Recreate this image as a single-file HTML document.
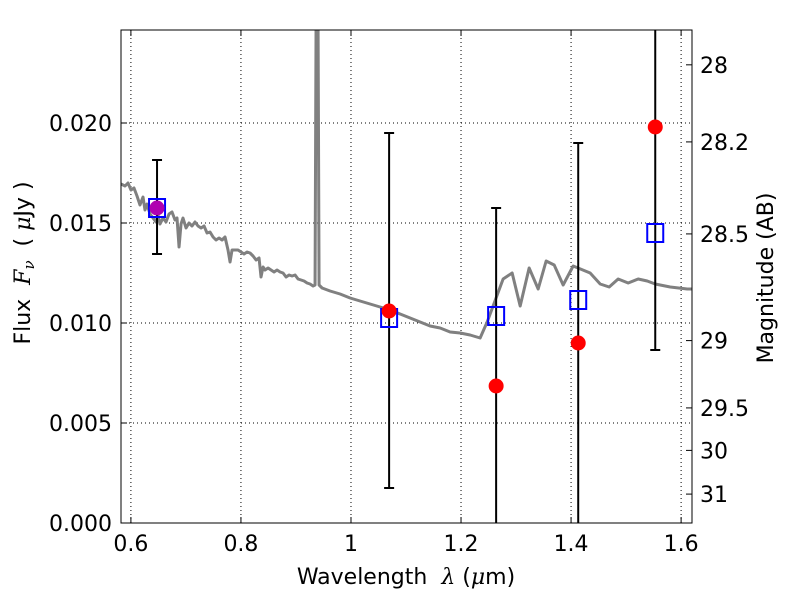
<!DOCTYPE html>
<html><head><meta charset="utf-8"><style>
body{margin:0;background:#fff;}
svg{display:block;font-family:"DejaVu Sans","Liberation Sans",sans-serif;}
</style></head><body>
<svg id="c" width="800" height="600"></svg>
<script>
const specPx=[[121,184],[125,186],[128,183],[131,190],[134,188],[137,196],[140,205],[143,197],[145,210],[147,204],[150,214],[153,218],[156,222],[158,215],[160,224],[163,218],[166,222],[169,214],[172,212],[175,220],[177,218],[179,247],[181,224],[183,218],[186,228],[189,223],[192,226],[195,222],[198,226],[201,228],[204,226],[207,233],[210,232],[213,237],[216,240],[219,238],[222,240],[225,237],[228,250],[230,262],[232,250],[235,250],[238,250],[241,252],[244,254],[247,252],[250,253],[253,256],[256,260],[259,258],[261,277],[263,267],[265,270],[268,268],[271,270],[274,272],[277,270],[280,272],[283,273],[286,277],[289,275],[292,276],[295,275],[298,279],[301,280],[304,281],[307,283],[310,284],[313,286],[315,285],[316,28],[318,28],[319,285],[322,288],[330,291],[340,294],[350,298],[360,301],[370,304],[380,307],[390,310],[400,314],[410,318],[420,322],[430,326],[440,328],[450,332],[460,333],[470,335],[480,338],[487,322],[503,279],[512,273],[520,306],[529,268],[538,289],[546,261],[554,265],[563,285],[573,266],[590,273],[600,284],[609,287],[618,279],[628,283],[638,279],[647,281],[655,284],[670,287],[687,289],[692,289]];
const specWave=specPx.map(p=>+(0.582+(p[0]-121)/550).toFixed(4));
const specFlux=specPx.map(p=>+((523-p[1])/20000).toFixed(5));
const obsWave=[0.6475,1.0693,1.2638,1.413,1.553];
const obsFlux=[0.01575,0.0106,0.00685,0.0090,0.0198];
const errHi=[0.01815,0.0195,0.01575,0.0190,0.0300];
const errLo=[0.01345,0.00175,-0.005,-0.005,0.00865];
const modelFlux=[0.01575,0.01025,0.01035,0.01115,0.0145];
const xTicks=[0.6,0.8,1.0,1.2,1.4,1.6];
const xTickLabels=["0.6","0.8","1","1.2","1.4","1.6"];
const yTicks=[0,0.005,0.01,0.015,0.02];
const yTickLabels=["0.000","0.005","0.010","0.015","0.020"];
const magTicks=[28,28.2,28.5,29,29.5,30,31];
const magTickLabels=["28","28.2","28.5","29","29.5","30","31"];

const L=121,R=692,T=30,B=523,X0=0.582,X1=1.6198,Y0=0,Y1=0.02465;
const sx=v=>L+(v-X0)/(X1-X0)*(R-L);
const sy=v=>B-(v-Y0)/(Y1-Y0)*(B-T);
const magToFlux=m=>Math.pow(10,(23.9-m)/2.5);
const svg=document.getElementById('c');
const NS='http://www.w3.org/2000/svg';
function mk(tag,attrs,parent){const e=document.createElementNS(NS,tag);for(const k in attrs)e.setAttribute(k,attrs[k]);(parent||svg).appendChild(e);return e;}
const defs=mk('defs',{});const cp=mk('clipPath',{id:'clip'},defs);mk('rect',{x:L,y:T,width:R-L,height:B-T},cp);
const plot=mk('g',{'clip-path':'url(#clip)'});


xTicks.forEach(v=>{const g=mk('line',{x1:sx(v),x2:sx(v),y1:T,y2:B,stroke:'#000','stroke-width':1,'stroke-dasharray':'1,3'},plot);

});
yTicks.forEach(v=>{const g=mk('line',{x1:L,x2:R,y1:sy(v),y2:sy(v),stroke:'#000','stroke-width':1,'stroke-dasharray':'1,3'},plot);

});
const sp=mk('polyline',{points:specWave.map((w,i)=>sx(w)+','+sy(specFlux[i])).join(' '),fill:'none',stroke:'#808080','stroke-width':3,'stroke-linejoin':'round'},plot);


obsWave.forEach((w,i)=>{const x=sx(w);
const l=mk('line',{x1:x,x2:x,y1:sy(errHi[i]),y2:sy(errLo[i]),stroke:'#000','stroke-width':2},plot);


[errHi[i],errLo[i]].forEach(v=>{const c=mk('line',{x1:x-5,x2:x+5,y1:sy(v),y2:sy(v),stroke:'#000','stroke-width':2},plot);

});});
obsWave.forEach((w,i)=>{const r=mk('rect',{x:sx(w)-8,y:sy(modelFlux[i])-9,width:16,height:18,fill:'none',stroke:'#0000ff','stroke-width':2},plot);

});
obsWave.forEach((w,i)=>{const c=mk('circle',{cx:sx(w),cy:sy(obsFlux[i]),r:7.5,fill:i===0?'#b000b0':'#ff0000'},plot);

});
const fr=mk('rect',{x:L,y:T,width:R-L,height:B-T,fill:'none',stroke:'#000','stroke-width':1});


xTicks.forEach((v,i)=>{const x=sx(v);
mk('line',{x1:x,x2:x,y1:B,y2:B-6,stroke:'#000'});mk('line',{x1:x,x2:x,y1:T,y2:T+6,stroke:'#000'});
const t=mk('text',{x:x,y:B+28,'font-size':22,'text-anchor':'middle'});t.textContent=xTickLabels[i];

});
yTicks.forEach((v,i)=>{const y=sy(v);
mk('line',{x1:L,x2:L+6,y1:y,y2:y,stroke:'#000'});
const t=mk('text',{x:L-9,y:y+8,'font-size':22,'text-anchor':'end'});t.textContent=yTickLabels[i];

});
magTicks.forEach((m,i)=>{const y=sy(magToFlux(m));
mk('line',{x1:R,x2:R-6,y1:y,y2:y,stroke:'#000'});
const t=mk('text',{x:R+8,y:y+8,'font-size':22,'text-anchor':'start'});t.textContent=magTickLabels[i];

});
</script>
<svg width="800" height="600" style="position:absolute;left:0;top:0;font-family:'DejaVu Sans','Liberation Sans',sans-serif">
<text x="406" y="584" font-size="22" text-anchor="middle">Wavelength&#160;&#160;<tspan font-family="DejaVu Serif" font-style="italic">λ</tspan> (<tspan font-family="DejaVu Serif" font-style="italic">μ</tspan>m)</text>
<text transform="translate(30,263) rotate(-90)" font-size="22" text-anchor="middle">Flux&#160;&#160;<tspan font-family="DejaVu Serif" font-style="italic">F<tspan font-size="15" dy="4">ν</tspan></tspan><tspan dy="-4">&#160;&#160;(&#160;</tspan><tspan font-family="DejaVu Serif" font-style="italic">μ</tspan>Jy )</text>
<text transform="translate(773,278) rotate(-90)" font-size="22" text-anchor="middle">Magnitude (AB)</text>
</svg>
</body></html>
